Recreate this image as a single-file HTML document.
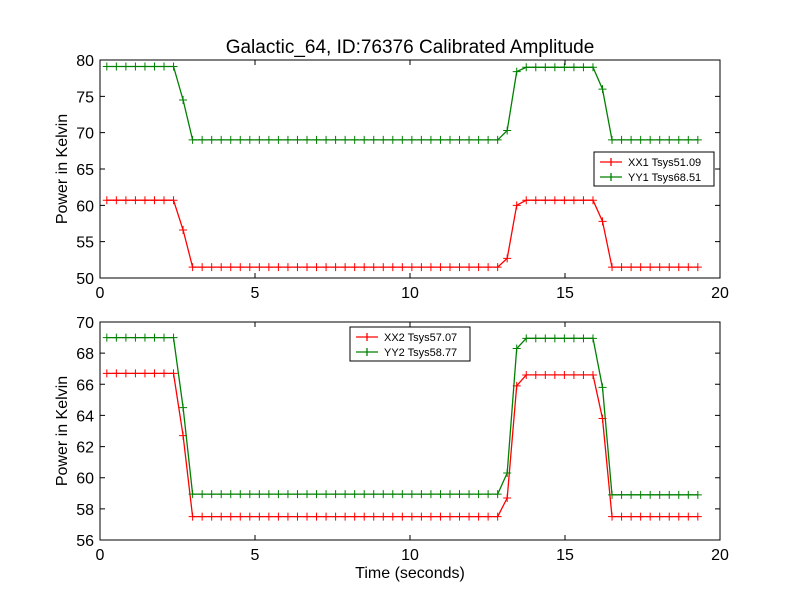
<!DOCTYPE html>
<html><head><meta charset="utf-8"><style>
body{margin:0;background:#fff;}
svg{display:block;font-family:"Liberation Sans",sans-serif;}
</style></head><body>
<svg id="chart" width="800" height="600" xmlns="http://www.w3.org/2000/svg">
<rect width="800" height="600" fill="#fff"/>
<text x="410" y="53" font-size="19" text-anchor="middle">Galactic_64, ID:76376 Calibrated Amplitude</text>
</svg>
<script>
const N = 63;
const t0 = 0.22, dt = 0.3075;
function series(hi1, mid1, lo, r1, r2, hi2, mid2, lo2){
  const a=[];
  for(let i=0;i<N;i++){
    if(i<8)a.push(hi1);else if(i==8)a.push(mid1);else if(i<42)a.push(lo);
    else if(i==42)a.push(r1);else if(i==43)a.push(r2);else if(i<52)a.push(hi2);
    else if(i==52)a.push(mid2);else a.push(lo2);
  }
  return a;
}
const xx1 = series(60.7, 56.6, 51.5, 52.7, 60.0, 60.7, 57.8, 51.5);
const yy1 = series(79.1, 74.5, 69.0, 70.3, 78.4, 79.0, 76.0, 69.0);
const xx2 = series(66.7, 62.7, 57.5, 58.7, 65.9, 66.6, 63.8, 57.5);
const yy2 = series(69.0, 64.5, 58.95, 60.3, 68.3, 68.95, 65.8, 58.9);
const xTicks = [0,5,10,15,20];
const yTicksTop = [50,55,60,65,70,75,80];
const yTicksBot = [56,58,60,62,64,66,68,70];
const legendTop = ["XX1 Tsys51.09","YY1 Tsys68.51"];
const legendBot = ["XX2 Tsys57.07","YY2 Tsys58.77"];

const svg=document.getElementById('chart');
const NS="http://www.w3.org/2000/svg";
function mk(tag,attrs,parent){const e=document.createElementNS(NS,tag);for(const k in attrs)e.setAttribute(k,attrs[k]);(parent||svg).appendChild(e);return e;}

function panel(top,bottom,ymin,ymax,yTicks,data,colors,legend,lx,ly,name,showXLabel){
  const L=100,R=720;
  const xs=v=>L+(v-0)/(20-0)*(R-L);
  const ys=v=>bottom-(v-ymin)/(ymax-ymin)*(bottom-top);
  const g=mk('g',{});
  
  
  data.forEach((arr,si)=>{
    const pts=arr.map((v,i)=>xs(t0+dt*i).toFixed(1)+','+ys(v).toFixed(1)).join(' ');
    const pl=mk('polyline',{points:pts,fill:'none',stroke:colors[si],'stroke-width':1.3},g);
    
    
    arr.forEach((v,i)=>{
      const x=xs(t0+dt*i),y=ys(v);
      const m=mk('path',{d:`M${x-4},${y}H${x+4}M${x},${y-4}V${y+4}`,stroke:colors[si],'stroke-width':1},g);
      
      
    });
  });
  const fr=mk('rect',{x:L,y:top,width:R-L,height:bottom-top,fill:'none',stroke:'#000','stroke-width':1},g);
  
  
  xTicks.forEach(v=>{
    const x=xs(v);
    mk('path',{d:`M${x},${bottom}v-5M${x},${top}v5`,stroke:'#000'},g);
    const tx=mk('text',{x:x,y:bottom+20,'font-size':16,'text-anchor':'middle'},g);
    tx.textContent=v;
    
    
  });
  yTicks.forEach(v=>{
    const y=ys(v);
    mk('path',{d:`M${L},${y}h5M${R},${y}h-5`,stroke:'#000'},g);
    const tx=mk('text',{x:L-6,y:y+6,'font-size':16,'text-anchor':'end'},g);
    tx.textContent=v;
    
    
  });
  const yl=mk('text',{x:0,y:0,'font-size':16,'text-anchor':'middle',transform:`translate(67,${(top+bottom)/2}) rotate(-90)`},g);
  yl.textContent='Power in Kelvin';
  
  
  if(showXLabel){
    const xl=mk('text',{x:410,y:578,'font-size':16,'text-anchor':'middle'},g);
    xl.textContent='Time (seconds)';
    
    
  }
  const lg=mk('g',{},g);
  
  
  mk('rect',{x:lx,y:ly,width:120,height:34,fill:'#fff',stroke:'#000','stroke-width':1},lg);
  legend.forEach((s,i)=>{
    const y=ly+10+i*15;
    mk('path',{d:`M${lx+6},${y}h22M${lx+17},${y-4}v8`,stroke:colors[i],'stroke-width':1.3},lg);
    const tx=mk('text',{x:lx+34,y:y+4,'font-size':11},lg);
    tx.textContent=s;
    
    
  });
}
panel(60,278,50,80,yTicksTop,[xx1,yy1],['#ff0000','#008000'],legendTop,594,152,'top-panel',false);
panel(322,540,56,70,yTicksBot,[xx2,yy2],['#ff0000','#008000'],legendBot,350,327,'bottom-panel',true);
</script>
</body></html>
